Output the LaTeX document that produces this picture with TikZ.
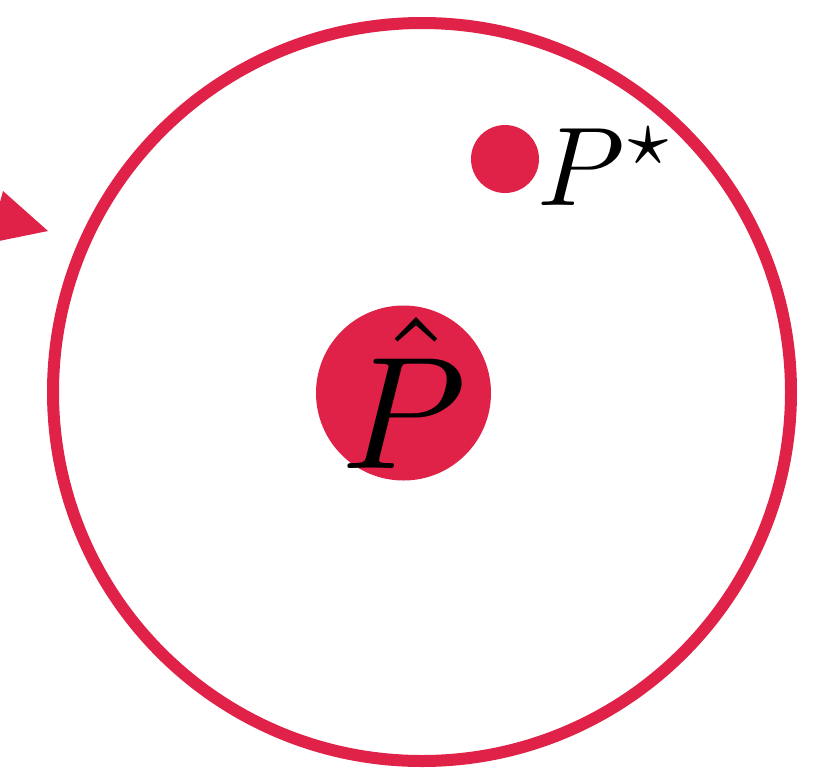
\documentclass[tikz,border=0pt]{standalone}
\usepackage{graphicx, amsmath, amssymb}
\usetikzlibrary{positioning}
\definecolor{crimson}{RGB}{224,34,73}

\begin{document}
\begin{tikzpicture}[x=0.5pt, y=-0.5pt]
            % Page frame
            \useasboundingbox (0,0) rectangle (831,767);
            \clip (0,0) rectangle (831,767);

            % Draw nodes
            \node[circle, draw=crimson, line width=6pt, minimum size=369pt, inner sep=0pt] (ring) at (422,392) {};
            \node[circle, fill=crimson, minimum size=87.5pt, inner sep=0pt] (Phat) at (403.5,393) {};
            \node[inner sep=0pt] (PhatText) at (Phat.center) {\scalebox{8}{$\hat{P}$}};
            \node[circle, fill=crimson, minimum size=34pt, inner sep=0pt] (Pdot) at (505,159) {};
            \node[anchor=west, inner sep=0pt, xshift=-1pt, yshift=-4pt] (Pstar) at (Pdot.east)
                {\scalebox{5.6}{$P^{\star}$}};

            % Arrow head at the left
            \fill[crimson] (48,231) -- (3,191) -- (-11,243) -- cycle;
        \end{tikzpicture}
\end{document}
